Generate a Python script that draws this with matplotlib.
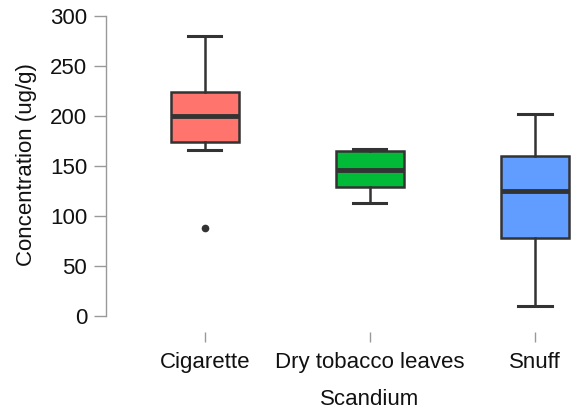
import matplotlib
matplotlib.use("Agg")
import matplotlib.pyplot as plt

plt.rcParams['font.family'] = ['Liberation Sans', 'DejaVu Sans']

categories = ["Cigarette", "Dry tobacco leaves", "Snuff"]
whisker_low = [166, 113, 10]
q1 = [174, 129, 78]
medians = [200, 146, 125]
q3 = [224, 165, 160]
whisker_high = [280, 167, 202]
outliers = [[88], [], []]
colors = ["#FF756E", "#00BA38", "#619CFF"]

y_ticks = [0, 50, 100, 150, 200, 250, 300]

W, H, DPI = 581, 412, 100
fig = plt.figure(figsize=(W / DPI, H / DPI), dpi=DPI)

# axes box in pixel coordinates
left_px, right_px = 106, 581
top_px, bottom_px = 10, 332
ax = fig.add_axes([left_px / W, 1 - bottom_px / H,
                   (right_px - left_px) / W, (bottom_px - top_px) / H])

stats = []
for i, name in enumerate(categories):
    stats.append(dict(label=name, whislo=whisker_low[i], q1=q1[i], med=medians[i],
                      q3=q3[i], whishi=whisker_high[i], fliers=outliers[i]))

edge = "#333333"
bp = ax.bxp(stats, positions=[1, 2, 3], widths=0.41, patch_artist=True,
            showfliers=True,
            boxprops=dict(edgecolor=edge, linewidth=1.8),
            medianprops=dict(color=edge, linewidth=3.5, solid_capstyle='butt'),
            whiskerprops=dict(color=edge, linewidth=1.8),
            capprops=dict(color=edge, linewidth=2.2),
            flierprops=dict(marker='o', markerfacecolor=edge, markeredgecolor=edge,
                            markersize=4.5, linestyle='none'),
            capwidths=0.2)
for patch, c in zip(bp['boxes'], colors):
    patch.set_facecolor(c)

# x range: left spine sits 0.6 units left of the first category
px_per_unit = 165.0
ax.set_xlim(1 - (205 - left_px) / px_per_unit, 3 + (right_px - 535) / px_per_unit)
ax.set_ylim(-16, 306)

for s in ['top', 'right', 'bottom']:
    ax.spines[s].set_visible(False)
ax.spines['left'].set_bounds(0, 300)
ax.spines['left'].set_color('#999999')
ax.spines['left'].set_linewidth(1.0)

ax.set_yticks(y_ticks)
ax.set_xticks([1, 2, 3])
ax.set_xticklabels(categories)
ax.tick_params(axis='y', direction='out', length=8.5, width=1.0, color='#999999',
               labelsize=16, labelcolor='#111111', pad=5)
ax.tick_params(axis='x', direction='out', length=7.2, width=1.0, color='#999999',
               labelsize=16, labelcolor='#111111', pad=7.5)

ax.set_ylabel("Concentration (ug/g)", fontsize=16, color='#111111')
ax.yaxis.set_label_coords(-(left_px - 37) / (right_px - left_px),
                          (bottom_px - 165) / (bottom_px - top_px))
# x title centred under the middle category
ax.set_xlabel("Scandium", fontsize=16, color='#111111', labelpad=11,
              x=(370 - left_px) / (right_px - left_px))

fig.savefig("out.png", dpi=DPI)
